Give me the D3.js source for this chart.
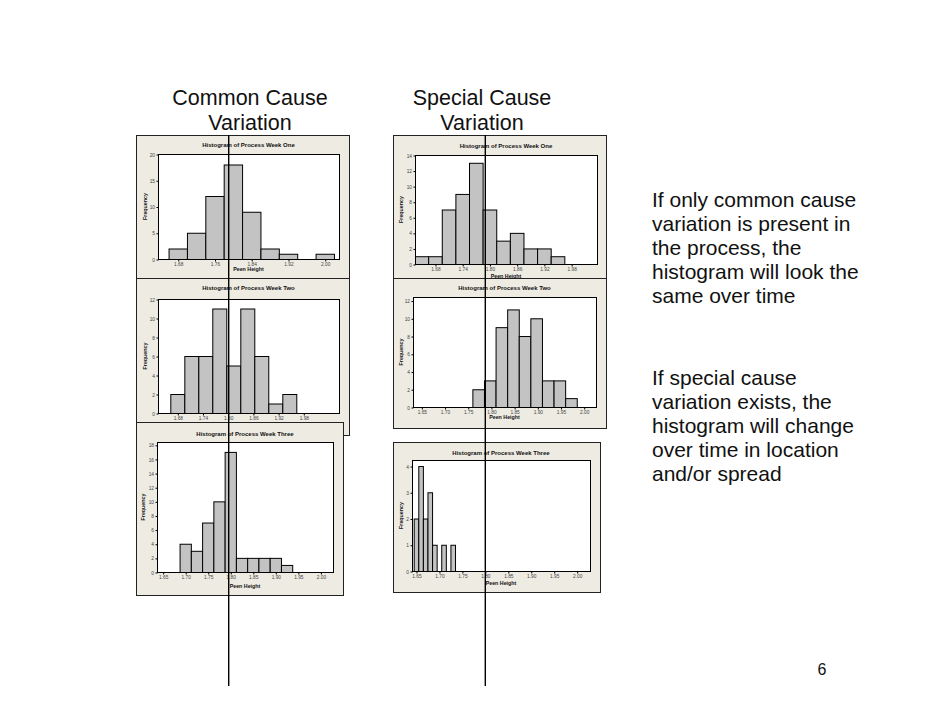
<!DOCTYPE html>
<html>
<head>
<meta charset="utf-8">
<script src="https://cdn.jsdelivr.net/npm/d3@7"></script>
<style>
  body { margin: 0; background: #fff; }
  svg { display: block; font-family: "Liberation Sans", Arial, Helvetica, sans-serif; }
  .tick text { fill: #444; }
</style>
</head>
<body>
<svg id="chart" width="942" height="728"></svg>
<script>
// --- data: bin start (Peen Height) and frequency for each histogram ---
const commonWeekOneBins   = [1.66, 1.70, 1.74, 1.78, 1.82, 1.86, 1.90, 1.94, 1.98];
const commonWeekOneCounts = [2, 5, 12, 18, 9, 2, 1, 0, 1];

const commonWeekTwoBins   = [1.6633, 1.6967, 1.73, 1.7633, 1.7967, 1.83, 1.8633, 1.8967, 1.93];
const commonWeekTwoCounts = [2, 6, 6, 11, 5, 11, 6, 1, 2];

const commonWeekThreeBins   = [1.6875, 1.7125, 1.7375, 1.7625, 1.7875, 1.8125, 1.8375, 1.8625, 1.8875, 1.9125];
const commonWeekThreeCounts = [4, 3, 7, 10, 17, 2, 2, 2, 2, 1];

const specialWeekOneBins   = [1.635, 1.665, 1.695, 1.725, 1.755, 1.785, 1.815, 1.845, 1.875, 1.905, 1.935];
const specialWeekOneCounts = [1, 1, 7, 9, 13, 7, 3, 4, 2, 2, 1];

const specialWeekTwoBins   = [1.76, 1.785, 1.81, 1.835, 1.86, 1.885, 1.91, 1.935, 1.96];
const specialWeekTwoCounts = [2, 3, 9, 11, 8, 10, 3, 3, 1];

const specialWeekThreeBins   = [1.645, 1.655, 1.665, 1.675, 1.685, 1.695, 1.705, 1.715, 1.725];
const specialWeekThreeCounts = [2, 4, 2, 3, 1, 0, 1, 0, 1];

// tick labels
const xTicksWide  = [1.68, 1.76, 1.84, 1.92, 2.00];
const xTicksSix   = [1.68, 1.74, 1.80, 1.86, 1.92, 1.98];
const xTicksFive  = [1.65, 1.70, 1.75, 1.80, 1.85, 1.90, 1.95, 2.00];
const yTicksBy5   = [0, 5, 10, 15, 20];
const yTicks12    = [0, 2, 4, 6, 8, 10, 12];
const yTicks14    = [0, 2, 4, 6, 8, 10, 12, 14];
const yTicks18    = [0, 2, 4, 6, 8, 10, 12, 14, 16, 18];
const yTicks4     = [0, 1, 2, 3, 4];

const columnHeads = [["Common Cause", "Variation"], ["Special Cause", "Variation"]];
const noteCommon  = ["If only common cause", "variation is present in", "the process, the", "histogram will look the", "same over time"];
const noteSpecial = ["If special cause", "variation exists, the", "histogram will change", "over time in location", "and/or spread"];

// --- layout of each small chart (box = frame, plot = inner white area) ---
const panels = [
  { title: "Histogram of Process Week One", bins: commonWeekOneBins, counts: commonWeekOneCounts, bw: 0.04,
    xTicks: xTicksWide, yTicks: yTicksBy5, xDom: [1.637, 2.031], yMax: 20,
    box: [136, 135, 213, 143], plot: [158, 154, 339, 259], titleY: 147, labelY: 271, freqX: 145 },
  { title: "Histogram of Process Week Two", bins: commonWeekTwoBins, counts: commonWeekTwoCounts, bw: 0.0333,
    xTicks: xTicksSix, yTicks: yTicks12, xDom: [1.634, 2.065], yMax: 12,
    box: [136, 278, 213, 157], plot: [158, 299, 339, 413], titleY: 290, labelY: 428, freqX: 145 },
  { title: "Histogram of Process Week Three", bins: commonWeekThreeBins, counts: commonWeekThreeCounts, bw: 0.025,
    xTicks: xTicksFive, yTicks: yTicks18, xDom: [1.6374, 2.028], yMax: 18.4,
    box: [136, 422, 207, 173], plot: [157, 442, 333, 572], titleY: 436, labelY: 588, freqX: 143 },
  { title: "Histogram of Process Week One", bins: specialWeekOneBins, counts: specialWeekOneCounts, bw: 0.03,
    xTicks: xTicksSix, yTicks: yTicks14, xDom: [1.636, 2.037], yMax: 14,
    box: [393, 135, 213, 143], plot: [415, 155, 597, 264], titleY: 148, labelY: 278, freqX: 401 },
  { title: "Histogram of Process Week Two", bins: specialWeekTwoBins, counts: specialWeekTwoCounts, bw: 0.025,
    xTicks: xTicksFive, yTicks: yTicks12, xDom: [1.632, 2.0265], yMax: 12.4,
    box: [393, 278, 213, 150], plot: [413, 297, 596, 407], titleY: 290, labelY: 419, freqX: 401 },
  { title: "Histogram of Process Week Three", bins: specialWeekThreeBins, counts: specialWeekThreeCounts, bw: 0.01,
    xTicks: xTicksFive, yTicks: yTicks4, xDom: [1.6413, 2.029], yMax: 4.23,
    box: [393, 442, 207, 150], plot: [412, 460, 590, 571], titleY: 455, labelY: 585, freqX: 401 }
];

const svg = d3.select("#chart");
const defs = svg.append("defs");

panels.forEach((p, i) => {
  const [bx, by, bwid, bh] = p.box;
  const [px0, py0, px1, py1] = p.plot;
  const g = svg.append("g");

  // frame
  g.append("rect")
    .attr("x", bx + 0.5).attr("y", by + 0.5)
    .attr("width", bwid).attr("height", bh)
    .attr("fill", "#EEEBE3").attr("stroke", "#222").attr("stroke-width", 1);

  // plot area
  g.append("rect")
    .attr("x", px0 + 0.5).attr("y", py0 + 0.5)
    .attr("width", px1 - px0).attr("height", py1 - py0)
    .attr("fill", "#fff");

  const x = d3.scaleLinear().domain(p.xDom).range([px0, px1]);
  const y = d3.scaleLinear().domain([0, p.yMax]).range([py1, py0]);

  defs.append("clipPath").attr("id", "clip" + i)
    .append("rect").attr("x", px0).attr("y", py0 - 1)
    .attr("width", px1 - px0 + 1).attr("height", py1 - py0 + 2);

  // bars
  g.append("g").attr("clip-path", `url(#clip${i})`)
    .selectAll("rect")
    .data(p.bins.map((b, j) => ({ b, c: p.counts[j] })).filter(d => d.c > 0))
    .join("rect")
    .attr("x", d => x(d.b) + 0.5)
    .attr("y", d => y(d.c) + 0.5)
    .attr("width", d => x(d.b + p.bw) - x(d.b))
    .attr("height", d => y(0) - y(d.c))
    .attr("fill", "#C3C3C3")
    .attr("stroke", "#000")
    .attr("stroke-width", 1);

  // plot border
  g.append("rect")
    .attr("x", px0 + 0.5).attr("y", py0 + 0.5)
    .attr("width", px1 - px0).attr("height", py1 - py0)
    .attr("fill", "none").attr("stroke", "#000").attr("stroke-width", 1);

  // axes
  const yAxis = g.append("g")
    .attr("transform", `translate(${px0 + 0.5},0.5)`)
    .call(d3.axisLeft(y).tickValues(p.yTicks).tickFormat(d3.format("d")).tickSize(2).tickPadding(1.5));
  yAxis.select(".domain").remove();
  yAxis.selectAll("text").attr("font-size", 4.8);

  const xAxis = g.append("g")
    .attr("transform", `translate(0.5,${py1 + 0.5})`)
    .call(d3.axisBottom(x).tickValues(p.xTicks).tickFormat(d3.format(".2f")).tickSize(2).tickPadding(1.5));
  xAxis.select(".domain").remove();
  xAxis.selectAll("text").attr("font-size", 4.8);

  // labels
  g.append("text")
    .attr("x", (px0 + px1) / 2).attr("y", p.titleY)
    .attr("text-anchor", "middle")
    .attr("font-size", 6).attr("font-weight", "bold").attr("fill", "#111")
    .text(p.title);

  g.append("text")
    .attr("x", (px0 + px1) / 2).attr("y", p.labelY)
    .attr("text-anchor", "middle")
    .attr("font-size", 5.3).attr("font-weight", "bold").attr("fill", "#111")
    .text("Peen Height");

  g.append("text")
    .attr("transform", `translate(${p.freqX},${(py0 + py1) / 2}) rotate(-90)`)
    .attr("text-anchor", "middle").attr("dy", "0.35em")
    .attr("font-size", 5.3).attr("font-weight", "bold").attr("fill", "#111")
    .text("Frequency");
});

// column headings
const headX = [250, 482];
columnHeads.forEach((lines, k) => {
  lines.forEach((t, j) => {
    svg.append("text")
      .attr("x", headX[k]).attr("y", 105 + j * 25)
      .attr("text-anchor", "middle")
      .attr("font-size", 21.5).attr("fill", "#111")
      .text(t);
  });
});

// side notes
[[noteCommon, 207], [noteSpecial, 385]].forEach(([lines, y0]) => {
  lines.forEach((t, j) => {
    svg.append("text")
      .attr("x", 652).attr("y", y0 + j * 24)
      .attr("font-size", 21).attr("fill", "#111")
      .text(t);
  });
});

// vertical reference lines over both columns
[228.7, 485.3].forEach(xv => {
  svg.append("line")
    .attr("x1", xv).attr("x2", xv)
    .attr("y1", 135).attr("y2", 686)
    .attr("stroke", "#000").attr("stroke-width", 1.4);
});

// page number
svg.append("text")
  .attr("x", 822).attr("y", 675)
  .attr("text-anchor", "middle")
  .attr("font-size", 16).attr("fill", "#111")
  .text("6");
</script>
</body>
</html>
